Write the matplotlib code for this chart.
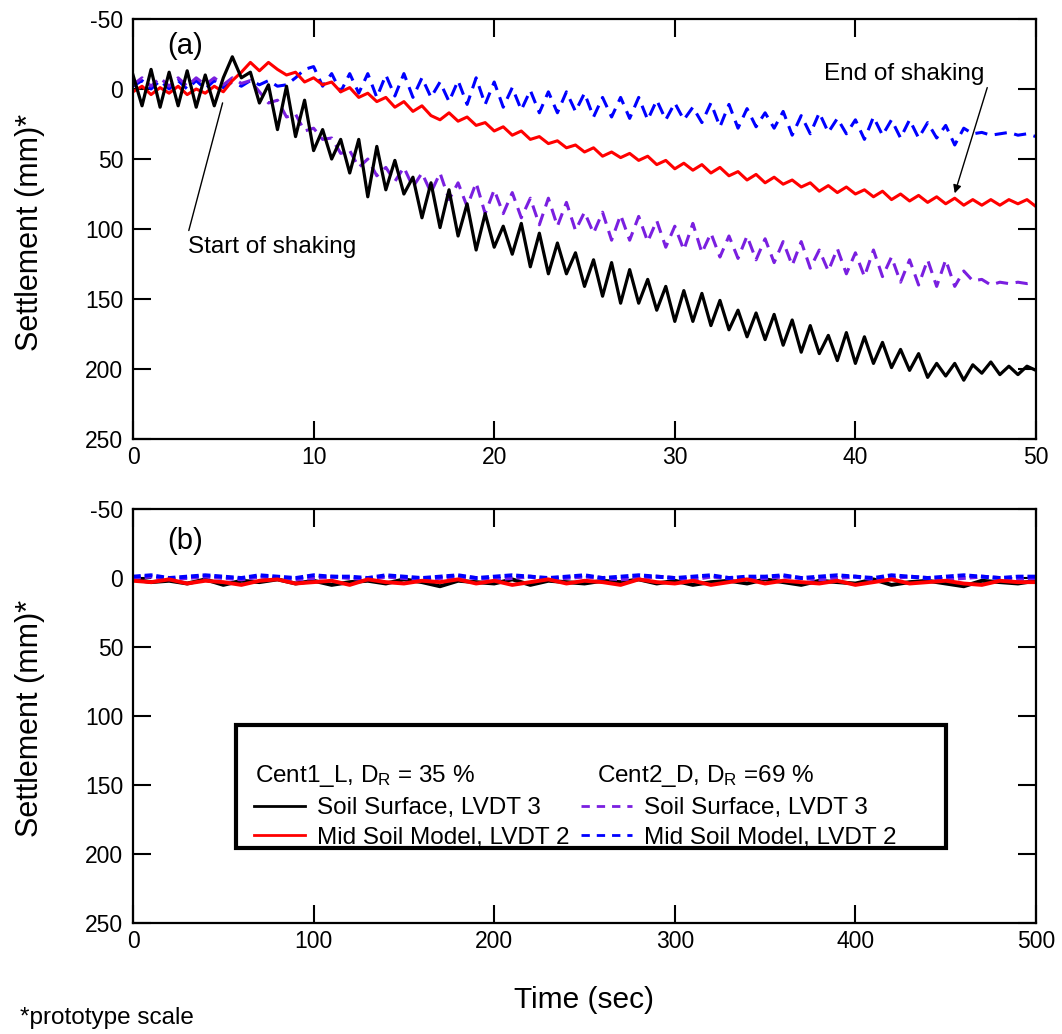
import numpy as np
import matplotlib
matplotlib.use('Agg')
import matplotlib.pyplot as plt
from matplotlib.patches import Rectangle
from matplotlib.lines import Line2D

plt.rcParams['font.family'] = ['Liberation Sans', 'DejaVu Sans']
plt.rcParams['mathtext.default'] = 'regular'
plt.rcParams['axes.unicode_minus'] = False

# ---- panel (a): first 50 s, values read every 0.5 s (mm, prototype scale)
cent1_surface = [-10, 12, -14, 13, -12, 12, -13, 13, -10, 12,
                 -8, -23, -8, -12, 10, -3, 29, -2, 34, 8,
                 44, 29, 50, 36, 60, 36, 77, 41, 72, 51,
                 75, 63, 92, 67, 99, 72, 105, 82, 115, 89,
                 113, 98, 118, 96, 127, 103, 132, 110, 132, 117,
                 141, 122, 148, 124, 153, 129, 153, 136, 158, 141,
                 166, 144, 166, 146, 169, 151, 172, 158, 177, 160,
                 179, 161, 183, 165, 188, 169, 189, 176, 194, 174,
                 196, 177, 196, 181, 199, 186, 201, 189, 206, 196,
                 205, 196, 208, 197, 203, 195, 204, 198, 204, 198,
                 201]
cent1_mid = [2, -2, 4, -1, 3, -2, 4, 0, 3, -2,
             2, -6, -12, -19, -13, -19, -14, -10, -12, -5,
             -8, -3, -5, 2, -1, 6, 3, 9, 6, 13,
             9, 16, 12, 19, 22, 17, 23, 20, 26, 24,
             30, 27, 33, 30, 36, 34, 39, 37, 42, 40,
             45, 42, 48, 45, 49, 46, 51, 48, 54, 51,
             57, 53, 58, 54, 60, 56, 62, 59, 65, 61,
             67, 63, 68, 65, 70, 67, 73, 69, 74, 70,
             75, 72, 77, 73, 79, 75, 80, 76, 81, 77,
             82, 78, 83, 79, 83, 79, 83, 79, 82, 79,
             84]
cent2_surface = [-3, -8, -2, -8, -2, -8, -2, -8, -3, -8,
                 -3, -8, -4, -6, 2, 10, 8, 20, 18, 30,
                 28, 36, 35, 46, 44, 56, 50, 62, 56, 66,
                 56, 70, 60, 74, 60, 79, 67, 84, 67, 89,
                 72, 89, 74, 92, 78, 97, 78, 98, 81, 101,
                 88, 103, 88, 108, 90, 108, 91, 109, 94, 113,
                 98, 115, 96, 117, 103, 120, 105, 121, 105, 122,
                 107, 124, 109, 126, 109, 128, 115, 130, 114, 132,
                 117, 134, 115, 134, 120, 138, 122, 140, 122, 141,
                 122, 141, 130, 137, 136, 140, 138, 139, 138, 139,
                 138]
cent2_mid = [-2, -6, 0, -6, 0, -6, 0, -6, 0, -6,
             -1, -5, -2, -6, -3, -6, -2, -3, -8, -14,
             -16, -2, -11, 2, -11, 3, -11, 6, -10, 5,
             -11, 6, -8, 6, -5, 9, -6, 11, -8, 11,
             -5, 13, -1, 15, 1, 17, 2, 17, 2, 16,
             3, 20, 6, 20, 6, 21, 6, 22, 8, 22,
             10, 22, 13, 24, 10, 27, 11, 28, 14, 27,
             17, 28, 16, 33, 19, 32, 17, 31, 21, 32,
             22, 36, 20, 33, 22, 35, 22, 35, 24, 35,
             26, 40, 28, 32, 31, 33, 32, 31, 33, 32,
             34]

# ---- panel (b): 0-500 s, values read every 10 s
b_cent1_surface = [1, 3, 2, 4, 1, 5, 2, 3, 1, 4, 2, 5, 3, 2, 4, 1, 3, 6, 2, 3,
                   4, 1, 5, 2, 3, 4, 2, 3, 1, 4, 2, 5, 3, 2, 4, 1, 3, 5, 2, 3,
                   4, 1, 5, 3, 2, 4, 6, 2, 3, 4, 2]
b_cent1_mid = [2, 3, 1, 4, 2, 3, 5, 2, 1, 4, 3, 2, 5, 1, 3, 4, 2, 3, 1, 4,
               2, 5, 3, 1, 4, 2, 3, 5, 1, 3, 4, 2, 5, 3, 1, 4, 2, 3, 4, 2,
               5, 3, 1, 4, 3, 2, 4, 5, 2, 3, 3]
b_cent2_surface = [0, -1, 1, 0, -1, 0, 1, -1, 0, 1, 0, -1, 0, 1, -1, 0, 1, 0, -1, 0,
                   1, 0, -1, 1, 0, -1, 0, 1, 0, -1, 0, 1, -1, 0, 1, 0, -1, 0, 1, 0,
                   -1, 1, 0, -1, 0, 1, 0, -1, 0, 1, 0]
b_cent2_mid = [-1, -2, 0, -1, -2, -1, 0, -2, -1, 0, -2, -1, -1, 0, -2, -1, 0, -1, -2, 0,
               -1, -2, -1, 0, -1, -2, 0, -1, -2, -1, 0, -1, -2, 0, -1, -1, -2, 0, -1, -2,
               -1, 0, -2, -1, 0, -1, -2, -1, 0, -1, -1]

y_ticks = [-50, 0, 50, 100, 150, 200, 250]

PURPLE = '#7a1fe0'
BLUE = '#0000ff'
RED = '#ff0000'
DASH = (4, 2.5)

fig = plt.figure(figsize=(10.62, 10.34), dpi=100)
W, H = 1062, 1034
ax_a = fig.add_axes([133 / W, 1 - 439 / H, 903 / W, 420 / H])
ax_b = fig.add_axes([133 / W, 1 - 923 / H, 903 / W, 414 / H])


def style_axis(ax, xmax, xstep):
    ax.set_xlim(0, xmax)
    ax.set_ylim(250, -50)
    ax.set_xticks(np.arange(0, xmax + 1, xstep))
    ax.set_yticks(y_ticks)
    ax.tick_params(direction='in', length=13, width=1.5, top=True, right=True,
                   labelsize=16.5)
    ax.tick_params(axis='x', pad=5)
    ax.tick_params(axis='y', pad=7)
    for sp in ax.spines.values():
        sp.set_linewidth(1.6)


def tgrid(vals, tmax):
    return np.linspace(0, tmax, len(vals))


# panel (a)
ax_a.plot(tgrid(cent2_mid, 50), cent2_mid, color=BLUE, lw=2.2, dashes=DASH)
ax_a.plot(tgrid(cent2_surface, 50), cent2_surface, color=PURPLE, lw=2.2, dashes=DASH)
ax_a.plot(tgrid(cent1_mid, 50), cent1_mid, color=RED, lw=2.2)
ax_a.plot(tgrid(cent1_surface, 50), cent1_surface, color='black', lw=2.3)
style_axis(ax_a, 50, 10)

ax_a.text(2.9, -31, '(a)', fontsize=21, ha='center', va='center')
ax_a.annotate('', xy=(5.0, 8), xytext=(3.05, 103),
              arrowprops=dict(arrowstyle='-', lw=1, color='black'))
ax_a.text(3.05, 113, 'Start of shaking', fontsize=17.5, ha='left', va='center')
ax_a.annotate('', xy=(45.5, 74.5), xytext=(47.3, -1),
              arrowprops=dict(arrowstyle='-|>', lw=1, color='black',
                              mutation_scale=12, shrinkA=0, shrinkB=0))
ax_a.text(42.7, -11, 'End of shaking', fontsize=17.5, ha='center', va='center')

# panel (b)
ax_b.plot(tgrid(b_cent1_surface, 500), b_cent1_surface, color='black', lw=2.8)
ax_b.plot(tgrid(b_cent2_surface, 500), b_cent2_surface, color=PURPLE, lw=2.8, dashes=(2, 1))
ax_b.plot(tgrid(b_cent2_mid, 500), b_cent2_mid, color=BLUE, lw=2.8, dashes=(2, 1))
ax_b.plot(tgrid(b_cent1_mid, 500), b_cent1_mid, color=RED, lw=2.8)
style_axis(ax_b, 500, 100)
ax_b.text(28.8, -27, '(b)', fontsize=21, ha='center', va='center')

# legend box
fig.patches.append(Rectangle((236 / W, 1 - 848 / H), 710 / W, 123 / H,
                             transform=fig.transFigure, facecolor='white',
                             edgecolor='black', lw=3, zorder=5))
fig.text(255 / W, 1 - 776 / H, 'Cent1_L, D$_{R}$ = 35 %', fontsize=17.5,
         va='center', zorder=6)
fig.text(597 / W, 1 - 776 / H, 'Cent2_D, D$_{R}$ =69 %', fontsize=17.5,
         va='center', zorder=6)
handles = [Line2D([], [], color='black', lw=2),
           Line2D([], [], color=RED, lw=2),
           Line2D([], [], color=PURPLE, lw=2, dashes=(3, 2.5)),
           Line2D([], [], color=BLUE, lw=2, dashes=(3, 2.5))]
labels = ['Soil Surface, LVDT 3', 'Mid Soil Model, LVDT 2',
          'Soil Surface, LVDT 3', 'Mid Soil Model, LVDT 2']
leg = fig.legend(handles, labels, ncol=2, frameon=False, fontsize=17.5,
                 loc='upper left', bbox_to_anchor=(254 / W, 1 - 797 / H),
                 borderpad=0, borderaxespad=0, handlelength=2.1,
                 handletextpad=0.5, columnspacing=0.45, labelspacing=0.32)
leg.set_zorder(7)

# axis titles
fig.text(30 / W, 1 - 232 / H, 'Settlement (mm)*', fontsize=22, rotation=90,
         ha='center', va='center')
fig.text(30 / W, 1 - 718 / H, 'Settlement (mm)*', fontsize=22, rotation=90,
         ha='center', va='center')
fig.text(584.5 / W, 1 - 1000 / H, 'Time (sec)', fontsize=21.5, ha='center', va='center')
fig.text(20 / W, 1 - 1018 / H, '*prototype scale', fontsize=17.5, ha='left', va='center')

fig.savefig('out.png', dpi=100)
